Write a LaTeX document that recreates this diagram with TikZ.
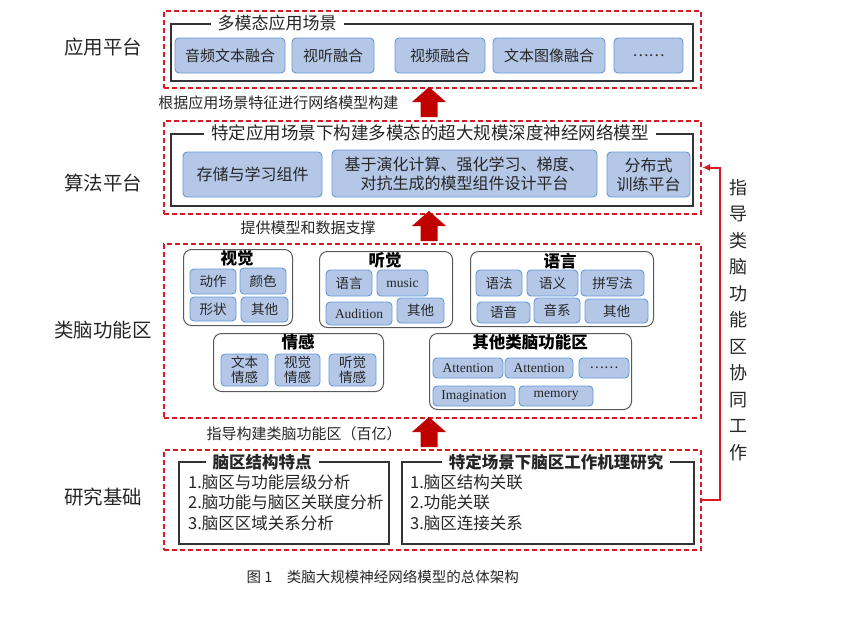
\documentclass[tikz,border=0pt]{standalone}
\usepackage{fontspec}
\setmainfont{Noto Sans CJK SC}
\newfontfamily\lat{Liberation Serif}
\usetikzlibrary{arrows.meta}
\definecolor{myred}{RGB}{215,25,35}
\definecolor{arrred}{RGB}{192,0,0}
\definecolor{myblue}{RGB}{180,199,231}
\definecolor{myblueline}{RGB}{100,155,215}
\tikzset{
  redbox/.style={draw=myred, dash pattern=on 5pt off 3pt, line width=2pt, inner sep=0pt},
  blackbox/.style={draw=black!80, line width=1.8pt, inner sep=0pt},
  graybox/.style={draw=black!65, line width=1pt, rounded corners=8pt, inner sep=0pt},
  bluebox/.style={draw=myblueline, fill=myblue, line width=0.9pt, rounded corners=4pt, inner sep=0pt, align=center, text=black!85},
  boxtitle/.style={fill=white, inner xsep=7pt, inner ysep=2pt, font=\fontsize{17}{20}\selectfont, text=black!85},
  subtitle/.style={inner sep=0pt, font=\bfseries\fontsize{16.5}{19}\selectfont},
  sidelabel/.style={font=\fontsize{19.5}{22}\selectfont, text=black!85},
  arrlabel/.style={font=\fontsize{15}{18}\selectfont, text=black!85},
  bigarrow/.style={fill=arrred, draw=none},
  itemtext/.style={font=\fontsize{16.5}{20.5}\selectfont, align=left, anchor=north west, inner sep=0pt, text=black!85},
}
\newcommand\bluebx[8]{\node[bluebox, font=\fontsize{#7}{#8}\selectfont, minimum width={#4-#2}, minimum height={#5-#3}] (#1) at ({(#2+#4)/2},{(#3+#5)/2}) {#6};}
\newcommand\grayrect[5]{\node[graybox, minimum width={#4-#2}, minimum height={#5-#3}, anchor=north west] (#1) at (#2,#3) {};}
\newcommand\upbigarrow[3]{% name, center x, tip y
  \coordinate (#1) at (#2,#3);
  \fill[bigarrow] (#1) -- ++(17,15) -- ++(-8.5,0) -- ++(0,15) -- ++(-17,0) -- ++(0,-15) -- ++(-8.5,0) -- cycle;}
\begin{document}
\begin{tikzpicture}[x=1pt,y=-1pt]
\useasboundingbox (0,0) rectangle (849,622);
% ---------- side labels
\node[sidelabel] (l1) at (103,47) {应用平台};
\node[sidelabel] (l2) at (103,183) {算法平台};
\node[sidelabel] (l3) at (103,330) {类脑功能区};
\node[sidelabel] (l4) at (103,497) {研究基础};
% ---------- red layer boxes
\node[redbox, minimum width=537, minimum height=77, anchor=north west] (app) at (163,10) {};
\node[redbox, minimum width=537, minimum height=93, anchor=north west] (alg) at (163,120) {};
\node[redbox, minimum width=537, minimum height=174, anchor=north west] (brain) at (163,243) {};
\node[redbox, minimum width=537, minimum height=100, anchor=north west] (res) at (163,449) {};
% ---------- application platform
\node[blackbox, minimum width=522, minimum height=57, anchor=north west] (appin) at (170,23) {};
\node[boxtitle] (appt) at (277,23) {多模态应用场景};
\bluebx{a1}{175}{38}{285}{73}{音频文本融合}{15}{18}
\bluebx{a2}{292}{38}{374}{73}{视听融合}{15}{18}
\bluebx{a3}{395}{38}{485}{73}{视频融合}{15}{18}
\bluebx{a4}{493}{38}{605}{73}{文本图像融合}{15}{18}
\bluebx{a5}{614}{38}{683}{73}{……}{15}{18}
% ---------- algorithm platform
\node[blackbox, minimum width=522, minimum height=72, anchor=north west] (algin) at (170,133) {};
\node[boxtitle, font=\fontsize{17.5}{20}\selectfont] (algt) at (430,133) {特定应用场景下构建多模态的超大规模深度神经网络模型};
\bluebx{b1}{183}{152}{322}{197}{存储与学习组件}{16}{19}
\bluebx{b2}{332}{150}{597}{197}{基于演化计算、强化学习、梯度、\\对抗生成的模型组件设计平台}{16}{19}
\bluebx{b3}{607}{152}{690}{197}{分布式\\训练平台}{16}{19}
% ---------- brain-like functional areas
\grayrect{g1}{183}{249}{292}{325}
\node[subtitle] at (237,258) {视觉};
\bluebx{v1}{190}{269}{236}{294}{动作}{13.5}{15}
\bluebx{v2}{240}{268}{286}{294}{颜色}{13.5}{15}
\bluebx{v3}{190}{297}{236}{321}{形状}{13.5}{15}
\bluebx{v4}{241}{297}{288}{322}{其他}{13.5}{15}
\grayrect{g2}{319}{251}{452}{327}
\node[subtitle] at (385,260) {听觉};
\bluebx{h1}{326}{270}{372}{296}{语言}{13.5}{15}
\bluebx{h2}{377}{270}{428}{296}{\lat music}{13.5}{15}
\bluebx{h3}{326}{302}{392}{325}{\lat Audition}{13.5}{15}
\bluebx{h4}{397}{298}{444}{323}{其他}{13.5}{15}
\grayrect{g3}{213}{333}{383}{391}
\node[subtitle] at (298,342) {情感};
\bluebx{e1}{221}{354}{268}{386}{文本\\情感}{13.5}{15}
\bluebx{e2}{275}{354}{320}{386}{视觉\\情感}{13.5}{15}
\bluebx{e3}{329}{354}{376}{386}{听觉\\情感}{13.5}{15}
\grayrect{g4}{470}{251}{653}{326}
\node[subtitle] at (560,261) {语言};
\bluebx{y1}{476}{270}{522}{296}{语法}{13.5}{15}
\bluebx{y2}{527}{270}{578}{296}{语义}{13.5}{15}
\bluebx{y3}{581}{270}{644}{296}{拼写法}{13.5}{15}
\bluebx{y4}{477}{302}{530}{323}{语音}{13.5}{15}
\bluebx{y5}{534}{298}{580}{323}{音系}{13.5}{15}
\bluebx{y6}{585}{299}{648}{323}{其他}{13.5}{15}
\grayrect{g5}{429}{333}{631}{409}
\node[subtitle] at (530,342) {其他类脑功能区};
\bluebx{o1}{433}{358}{503}{378}{\lat Attention}{13.5}{15}
\bluebx{o2}{505}{358}{573}{378}{\lat Attention}{13.5}{15}
\bluebx{o3}{579}{358}{629}{378}{……}{13.5}{15}
\bluebx{o4}{433}{386}{515}{406}{\lat Imagination}{13.5}{15}
\bluebx{o5}{519}{386}{593}{406}{\lat memory}{13.5}{15}
% ---------- research basis
\node[blackbox, minimum width=210, minimum height=82, anchor=north west] (r1) at (178,461) {};
\node[boxtitle, font=\bfseries\fontsize{16.5}{19}\selectfont] (r1t) at (262,462) {脑区结构特点};
\node[itemtext] (r1i) at (188,474) {1.脑区与功能层级分析\\2.脑功能与脑区关联度分析\\3.脑区区域关系分析};
\node[blackbox, minimum width=292, minimum height=82, anchor=north west] (r2) at (401,461) {};
\node[boxtitle, font=\bfseries\fontsize{16.5}{19}\selectfont] (r2t) at (556,462) {特定场景下脑区工作机理研究};
\node[itemtext] (r2i) at (410,474) {1.脑区结构关联\\2.功能关联\\3.脑区连接关系};
% ---------- big up arrows between layers
\upbigarrow{ar1}{429}{87}
\upbigarrow{ar2}{429}{211}
\upbigarrow{ar3}{429}{417}
\node[arrlabel, anchor=east] (t1) at (402,103) {根据应用场景特征进行网络模型构建};
\node[arrlabel, anchor=west] (t2) at (237,228) {提供模型和数据支撑};
\node[arrlabel, anchor=west] (t3) at (203,434) {指导构建类脑功能区（百亿）};
% ---------- feedback
\draw[myred, line width=2pt, -{Latex[length=8pt,width=7pt]}] (res.east) -- ++(18,0) |- (alg.east);
\node[font=\fontsize{18}{26.5}\selectfont, align=center, text=black!85] (fb) at (738,320) {指\\导\\类\\脑\\功\\能\\区\\协\\同\\工\\作};
% ---------- caption
\node[anchor=west, font=\fontsize{14.5}{17}\selectfont, text=black!85] (cap) at (243,577) {图 1\hspace{1em}类脑大规模神经网络模型的总体架构};
\end{tikzpicture}
\end{document}
